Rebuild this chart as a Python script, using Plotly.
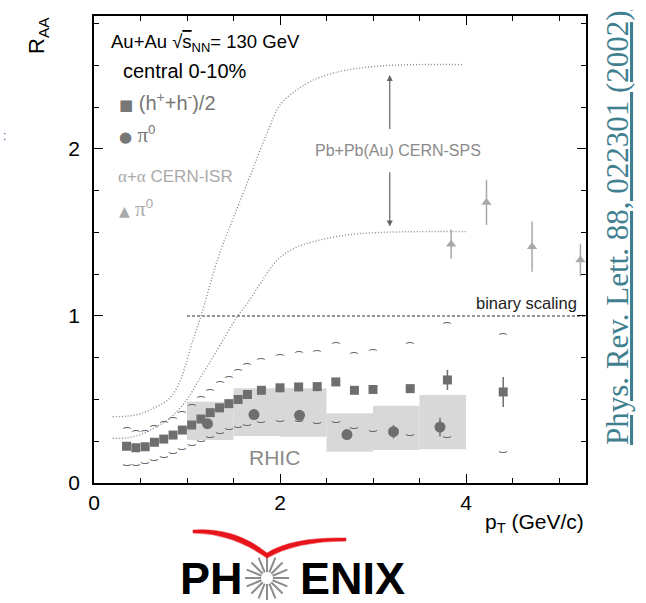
import math
import plotly.graph_objects as go

# ---------------- data ----------------
h_x = [0.35, 0.45, 0.55, 0.65, 0.75, 0.85, 0.95, 1.05, 1.15, 1.25, 1.35, 1.45, 1.55, 1.65,
       1.8, 2.0, 2.2, 2.4, 2.6, 2.8, 3.0, 3.4, 3.8, 4.4]
h_y = [0.220, 0.211, 0.217, 0.244, 0.263, 0.287, 0.317, 0.347, 0.383, 0.421, 0.450, 0.475, 0.500, 0.530,
       0.555, 0.570, 0.575, 0.577, 0.605, 0.555, 0.560, 0.565, 0.617, 0.545]
h_err = [0, 0, 0, 0, 0, 0, 0, 0, 0, 0, 0, 0, 0, 0,
         0, 0, 0, 0, 0, 0, 0, 0.02, 0.06, 0.09]
h_sys_hi = [0.327, 0.307, 0.311, 0.337, 0.363, 0.387, 0.423, 0.463, 0.513, 0.557, 0.601, 0.633, 0.673, 0.713,
            0.740, 0.766, 0.782, 0.790, 0.836, 0.776, 0.796, 0.834, 0.956, 0.890]
h_sys_lo = [0.114, 0.114, 0.122, 0.144, 0.162, 0.184, 0.208, 0.232, 0.257, 0.281, 0.303, 0.325, 0.337, 0.353,
            0.367, 0.375, 0.375, 0.363, 0.371, 0.333, 0.317, 0.289, 0.277, 0.193]

pi_x = [1.22, 1.72, 2.21, 2.72, 3.22, 3.72]
pi_y = [0.355, 0.410, 0.405, 0.290, 0.307, 0.335]
pi_err = [0, 0, 0.03, 0.02, 0.04, 0.055]

box_x = [1.25, 1.75, 2.25, 2.75, 3.25, 3.75]
box_lo = [0.257, 0.281, 0.277, 0.187, 0.198, 0.202]
box_hi = [0.487, 0.567, 0.567, 0.417, 0.463, 0.527]

isr_x = [3.84, 4.22, 4.71, 5.23]
isr_y = [1.43, 1.68, 1.415, 1.335]
isr_err = [0.088, 0.135, 0.15, 0.097]

sps_hi_x = [0.2, 0.35, 0.5, 0.65, 0.8, 0.9, 0.97, 1.05, 1.15, 1.33, 1.5, 1.69, 1.86, 2.0, 2.18, 2.36,
            2.54, 2.72, 3.08, 3.5, 3.97]
sps_hi_y = [0.397, 0.40, 0.415, 0.45, 0.50, 0.58, 0.68, 0.83, 1.0, 1.34, 1.59, 1.855, 2.094, 2.263,
            2.353, 2.413, 2.449, 2.473, 2.497, 2.505, 2.505]
sps_lo_x = [0.2, 0.35, 0.5, 0.65, 0.82, 1.0, 1.11, 1.22, 1.36, 1.54, 1.65, 1.79, 1.97, 2.15, 2.36,
            2.72, 3.08, 3.5, 4.0]
sps_lo_y = [0.268, 0.27, 0.29, 0.33, 0.39, 0.50, 0.60, 0.70, 0.83, 0.996, 1.076, 1.196, 1.335, 1.405,
            1.445, 1.485, 1.50, 1.505, 1.505]

binary_x = [1.0, 5.29]
binary_y = [1.0, 1.0]

x_ticks = [0, 2, 4]
y_ticks = [0, 1, 2]

# ---------------- styles ----------------
SANS = "Liberation Sans, Arial, sans-serif"
SERIF = "Liberation Serif, Times New Roman, serif"
DARK = "#6e6e6e"
LIGHT = "#a9a9a9"

fig = go.Figure()

box_h = [h - l for h, l in zip(box_hi, box_lo)]
fig.add_trace(go.Bar(x=box_x, y=box_h, base=box_lo, width=0.5,
                     marker=dict(color="#d8d8d8", line=dict(width=0)), hoverinfo="skip"))

for xs, ys in [(sps_hi_x, sps_hi_y), (sps_lo_x, sps_lo_y)]:
    fig.add_trace(go.Scatter(x=xs, y=ys, mode="lines", line=dict(color="#8a8a8a", width=1.4, dash="1px,2px"),
                             line_shape="spline", hoverinfo="skip"))

fig.add_trace(go.Scatter(x=binary_x, y=binary_y, mode="lines",
                         line=dict(color="#333333", width=1.2, dash="3px,2px")))

fig.add_trace(go.Scatter(x=h_x, y=h_sys_hi, mode="text", text=["\u2322"] * len(h_x),
                         textfont=dict(size=15, color="#6a6a6a", family="DejaVu Sans")))
fig.add_trace(go.Scatter(x=h_x, y=h_sys_lo, mode="text", text=["\u2323"] * len(h_x),
                         textfont=dict(size=15, color="#6a6a6a", family="DejaVu Sans")))

fig.add_trace(go.Scatter(x=h_x, y=h_y, mode="markers",
                         marker=dict(symbol="square", size=9, color=DARK),
                         error_y=dict(type="data", array=h_err, color=DARK, thickness=1.5, width=0)))
fig.add_trace(go.Scatter(x=pi_x, y=pi_y, mode="markers",
                         marker=dict(symbol="circle", size=11, color=DARK),
                         error_y=dict(type="data", array=pi_err, color=DARK, thickness=1.5, width=0)))
fig.add_trace(go.Scatter(x=isr_x, y=isr_y, mode="markers",
                         marker=dict(symbol="triangle-up", size=9, color=LIGHT),
                         error_y=dict(type="data", array=isr_err, color=LIGHT, thickness=1.5, width=0)))

axis_common = dict(showline=True, linewidth=1.5, linecolor="black", mirror="allticks",
                   ticks="inside", ticklen=9, tickwidth=1.2, tickcolor="black",
                   showgrid=False, zeroline=False, tickfont=dict(family=SANS, size=21, color="black"))
fig.update_xaxes(range=[0, 5.29], tickmode="array", tickvals=x_ticks,
                 minor=dict(tickmode="linear", tick0=0, dtick=0.5, ticks="inside", ticklen=5,
                            tickcolor="black", tickwidth=1.2),
                 **axis_common)
fig.update_yaxes(range=[0, 2.796], tickmode="array", tickvals=y_ticks,
                 minor=dict(tickmode="linear", tick0=0, dtick=0.25, ticks="inside", ticklen=5,
                            tickcolor="black", tickwidth=1.2),
                 ticklabelstandoff=8, **axis_common)

L, T, PW, PH_ = 94, 16, 492, 467


def px(x):
    return (x - L) / PW


def py(y):
    return (T + PH_ - y) / PH_


ann = []


def add_text(text, x, y, size, color="black", family=SANS, xanchor="left", yanchor="middle", **kw):
    ann.append(dict(text=text, x=px(x), y=py(y), xref="paper", yref="paper", showarrow=False,
                    xanchor=xanchor, yanchor=yanchor, font=dict(size=size, color=color, family=family), **kw))


pi = "<span style='font-family:Liberation Serif;font-size:21px'>\u03c0</span><sup>0</sup>"
alpha = "<span style='font-family:Liberation Serif'>\u03b1</span>"
add_text("Au+Au \u221a<span style='text-decoration:overline'>s</span><sub>NN</sub>= 130 GeV", 109, 43, 18.5)
add_text("central 0-10%", 121, 71, 20)
add_text("<span style='font-family:DejaVu Sans;font-size:15px'>\u25a0</span> (h<sup>+</sup>+h<sup>-</sup>)/2",
         117, 101, 20, color="#777777")
add_text("<span style='font-family:DejaVu Sans;font-size:15px'>\u25cf</span> " + pi, 117, 134, 19, color="#777777")
add_text(alpha + "+" + alpha + " CERN-ISR", 116, 176, 17, color="#aaaaaa")
add_text("<span style='font-family:DejaVu Sans;font-size:14px'>\u25b2</span> " + pi, 117, 208, 19, color="#aaaaaa")

add_text("R<sub>AA</sub>", 38, 36, 22, xanchor="center", textangle=-90)
add_text("p<sub>T</sub> (GeV/c)", 586, 523, 21, xanchor="right")

# in-plot labels (data coordinates)
ann.append(dict(text="binary scaling", x=5.21, y=1.08, xref="x", yref="y", showarrow=False,
                xanchor="right", font=dict(size=16.5, family=SANS, color="#222222")))
ann.append(dict(text="Pb+Pb(Au) CERN-SPS", x=3.27, y=1.99, xref="x", yref="y", showarrow=False,
                font=dict(size=16, family=SANS, color="#8a8a8a")))
ann.append(dict(text="RHIC", x=1.94, y=0.155, xref="x", yref="y", showarrow=False,
                font=dict(size=21, family=SANS, color="#8a8a8a")))
for tip, tail in [(2.443, 2.11), (1.535, 1.87)]:
    ann.append(dict(text="", x=3.18, y=tip, ax=3.18, ay=tail, xref="x", yref="y", axref="x", ayref="y",
                    showarrow=True, arrowhead=2, arrowsize=1, arrowwidth=1.2, arrowcolor="#666666"))

# citation
ann.append(dict(text="Phys. Rev. Lett. 88, 022301 (2002)", x=px(617), y=py(228), xref="paper", yref="paper",
                showarrow=False, textangle=-90, xanchor="center", yanchor="middle",
                font=dict(size=31, family=SERIF, color="#3f7f90", lineposition="under")))
# small blue mark at left edge
add_text(":", 4, 136, 12, color="#2a5caa", xanchor="center")

# PHENIX logo
add_text("<b>PH</b>", 211, 578, 45, xanchor="center")
add_text("<b>ENIX</b>", 352, 578, 45, xanchor="center")

shapes = []
cx, cy = 267, 578
for k in range(16):
    a = 2 * math.pi * k / 16
    r0, r1 = 6, 22
    shapes.append(dict(type="line", xref="paper", yref="paper",
                       x0=px(cx + r0 * math.cos(a)), y0=py(cy + r0 * math.sin(a)),
                       x1=px(cx + r1 * math.cos(a)), y1=py(cy + r1 * math.sin(a)),
                       line=dict(color="#8c8c8c", width=2)))


def P(x, y):
    return f"{px(x):.5f},{py(y):.5f}"


swoosh = (f"M{P(193,530)} Q{P(235,527)} {P(267,553)} Q{P(292,537)} {P(346,538)} "
          f"L{P(346,541)} Q{P(296,541)} {P(267,558)} Q{P(232,533)} {P(193,533)} Z")
shapes.append(dict(type="path", xref="paper", yref="paper", path=swoosh,
                   fillcolor="#e8141c", line=dict(color="#e8141c", width=0.5)))

fig.update_layout(width=646, height=603, margin=dict(l=L, r=646 - L - PW, t=T, b=603 - T - PH_),
                  plot_bgcolor="white", paper_bgcolor="white", showlegend=False,
                  annotations=ann, shapes=shapes, font=dict(family=SANS))

fig.write_html("out.html")
